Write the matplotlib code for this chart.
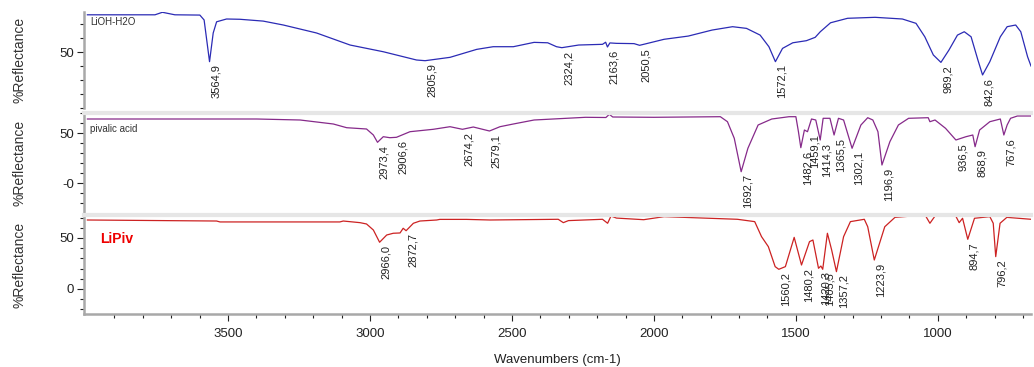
import numpy as np
import matplotlib.pyplot as plt
from matplotlib.ticker import MultipleLocator, FixedLocator, FixedFormatter

plt.rcParams['font.family'] = ['Liberation Sans', 'DejaVu Sans']

# LiOH-H2O spectrum
lioh_wn = [3995, 3757, 3731, 3687, 3599, 3584, 3564.9, 3552, 3540, 3505, 3458, 3376,
           3305, 3188, 3070, 2953, 2836, 2805.9, 2718, 2624, 2566, 2495, 2422, 2374,
           2343, 2324.2, 2265, 2181, 2170, 2163.6, 2155, 2132, 2070, 2050.5, 2030, 1964,
           1879, 1795, 1723, 1674, 1626, 1595, 1572.1, 1547, 1511, 1463, 1432, 1414,
           1378, 1318, 1221, 1125, 1077, 1046, 1016, 989.2, 961, 931, 907, 883, 859,
           842.6, 817, 780, 756, 726, 708, 684, 672]
lioh_r = [76.6, 76.6, 78.4, 76.6, 76.4, 72.9, 43.1, 63.6, 71.6, 73.6, 73.4, 72.1,
          69.3, 63.6, 55.0, 50.2, 44.3, 43.8, 46.2, 51.9, 53.8, 53.8, 56.9, 56.6,
          53.8, 53.1, 55.0, 55.5, 57.0, 53.6, 56.5, 56.2, 56.0, 54.8, 55.8, 59.1,
          61.4, 65.7, 68.1, 66.9, 62.1, 53.8, 43.1, 52.6, 56.6, 58.1, 60.5, 64.5,
          70.9, 74.1, 74.8, 73.6, 70.5, 60.9, 47.9, 42.6, 51.4, 62.1, 64.5, 60.9, 44.3,
          33.6, 43.1, 60.9, 68.1, 69.3, 64.5, 46.6, 40.0]
lioh_peaks = [3564.9, 2805.9, 2324.2, 2163.6, 2050.5, 1572.1, 989.2, 842.6]

# pivalic acid
piv_wn = [3995, 3399, 3246, 3129, 3082, 3012, 2988, 2973.4, 2953, 2930, 2906.6, 2859,
          2777, 2718, 2674.2, 2636, 2579.1, 2542, 2495, 2422, 2241, 2169, 2157, 2145,
          2000, 1766, 1741, 1717, 1692.7, 1669, 1633, 1585, 1524, 1500, 1491, 1482.6,
          1470, 1459.1, 1445, 1430, 1414.3, 1404, 1380, 1365.5, 1350, 1332, 1302.1,
          1271, 1247, 1229, 1211, 1196.9, 1169, 1139, 1103, 1034, 1028, 1010, 973,
          936.5, 901, 877, 868.9, 853, 817, 780, 767.6, 756, 744, 720, 672]
piv_r = [64, 64, 63, 59, 55.3, 54, 48, 40.7, 46.3, 45.3, 45.7, 51.3,
         53.7, 56.3, 53.7, 56, 52, 56.3, 59, 63, 65.7, 65.5, 68.7, 66,
         65.7, 66.3, 61.3, 44.7, 11.3, 34.7, 58, 64, 66.3, 66.3, 51.3, 35.3,
         53, 51.3, 64, 63, 43, 64.7, 64.7, 48, 64.7, 63, 34.7,
         58, 65.3, 63, 51.3, 18, 41.3, 58, 64.7, 65.3, 61.3, 63, 54.7,
         43, 46.3, 48, 36.3, 53, 61.3, 64, 48, 58, 64.7, 67, 67]
piv_peaks = [2973.4, 2906.6, 2674.2, 2579.1, 1692.7, 1482.6, 1459.1, 1414.3, 1365.5,
             1302.1, 1196.9, 936.5, 868.9, 767.6]

# LiPiv
lipiv_wn = [3995, 3540, 3528, 3106, 3094, 3035, 3012, 2988, 2966.0, 2941, 2918, 2894,
            2883, 2872.7, 2847, 2824, 2765, 2754, 2660, 2577, 2472, 2337, 2319, 2301,
            2181, 2163, 2151, 2132, 2036, 1964, 1706, 1645, 1621, 1597, 1573, 1560.2,
            1537, 1506, 1480.2, 1452, 1440, 1420.3, 1412, 1405.5, 1389, 1374, 1357.2,
            1332, 1308, 1259, 1247, 1223.9, 1187, 1151, 1045, 1028, 1010, 937, 925, 913,
            894.7, 871, 817, 805, 796.2, 781, 757, 672]
lipiv_r = [67.6, 66.6, 65.7, 65.7, 66.6, 65, 63.7, 57.8, 45.8, 52.9, 54.6, 54.9,
           59.5, 57.1, 64.4, 66.6, 67.6, 68.2, 68.2, 67.6, 67.9, 68.3, 65, 67,
           68.3, 64.4, 71.5, 69.5, 67.9, 70.9, 68.3, 66, 51.3, 41.5, 21.9, 19.3,
           21.9, 50.6, 23.5, 46.4, 48, 20.3, 22.5, 19.3, 54.6, 38.2, 17,
           51.3, 66, 68.3, 61, 28.4, 61, 70.2, 72.5, 64.4, 71.5, 71.5, 65, 69.3,
           48.7, 69.3, 70.9, 64.4, 31.7, 64.4, 70.2, 68.3]
lipiv_peaks = [2966.0, 2872.7, 1560.2, 1480.2, 1420.3, 1405.5, 1357.2, 1223.9, 894.7, 796.2]

x_ticks = [3500, 3000, 2500, 2000, 1500, 1000]

fig = plt.figure(figsize=(10.34, 3.67), dpi=100)
W, H = 1034.0, 367.0
left, width = 84 / W, 947 / W
ax1 = fig.add_axes([left, 1 - 108 / H, width, 96 / H])
ax2 = fig.add_axes([left, 1 - 212 / H, width, 99 / H])
ax3 = fig.add_axes([left, 1 - 314 / H, width, 99 / H])

panels = [
    (ax1, lioh_wn, lioh_r, lioh_peaks, '#2b2bb5', (10, 78.6)),
    (ax2, piv_wn, piv_r, piv_peaks, '#862a8a', (-29, 70)),
    (ax3, lipiv_wn, lipiv_r, lipiv_peaks, '#cc2222', (-24.5, 72.5)),
]

for ax, wn, r, peaks, col, ylim in panels:
    ax.plot(wn, r, color=col, lw=0.9)
    ax.set_xlim(4007, 672)
    ax.set_ylim(*ylim)
    for s in ['right', 'top', 'bottom']:
        ax.spines[s].set_visible(False)
    ax.spines['left'].set_color('#a8a8a8')
    ax.spines['left'].set_linewidth(1.8)
    ax.yaxis.set_minor_locator(MultipleLocator(10))
    ax.tick_params(axis='y', which='major', length=5, width=0.8, labelsize=9.5,
                   colors='#222222', pad=2)
    ax.tick_params(axis='y', which='minor', length=3, width=0.8, colors='#222222')
    ax.tick_params(axis='x', which='both', bottom=False, labelbottom=False)
    ax.set_ylabel('%Reflectance', fontsize=10, color='#333333')
    ax.yaxis.set_label_coords(-0.061, 0.5)
    # peak labels
    xs = np.array(wn)[::-1]
    ys = np.array(r)[::-1]
    for p in peaks:
        v = np.interp(p, xs, ys)
        ax.annotate(('%.1f' % p).replace('.', ','), (p, v), xytext=(1.2, -2),
                    textcoords='offset points', rotation=90, ha='left', va='top',
                    fontsize=8, color='#222222')

ax1.yaxis.set_major_locator(FixedLocator([50]))
ax2.yaxis.set_major_locator(FixedLocator([0, 50]))
ax2.yaxis.set_major_formatter(FixedFormatter(['-0', '50']))
ax3.yaxis.set_major_locator(FixedLocator([0, 50]))

# light grey bands between the panels
for ax in (ax2, ax3):
    ax.spines['top'].set_visible(True)
    ax.spines['top'].set_color('#e6e6e6')
    ax.spines['top'].set_linewidth(3)

ax3.spines['bottom'].set_visible(True)
ax3.spines['bottom'].set_color('#a8a8a8')
ax3.spines['bottom'].set_linewidth(1.8)
ax3.xaxis.set_major_locator(FixedLocator(x_ticks))
ax3.xaxis.set_minor_locator(FixedLocator(list(range(3900, 672, -100))))
ax3.tick_params(axis='x', which='major', bottom=True, labelbottom=True, length=5,
                width=0.8, labelsize=9.5, colors='#222222', pad=5)
ax3.tick_params(axis='x', which='minor', bottom=True, length=3, width=0.8,
                colors='#222222')
ax3.set_xlabel('Wavenumbers (cm-1)', fontsize=9.5, color='#222222', labelpad=10)

ax1.text(0.0063, 0.90, 'LiOH-H2O', transform=ax1.transAxes, fontsize=7,
         color='#333333', va='center')
ax2.text(0.0063, 0.843, 'pivalic acid', transform=ax2.transAxes, fontsize=7,
         color='#333333', va='center')
ax3.text(0.017, 0.758, 'LiPiv', transform=ax3.transAxes, fontsize=10,
         color='#ee0000', fontweight='bold', va='center')

fig.savefig('out.png', dpi=100)
